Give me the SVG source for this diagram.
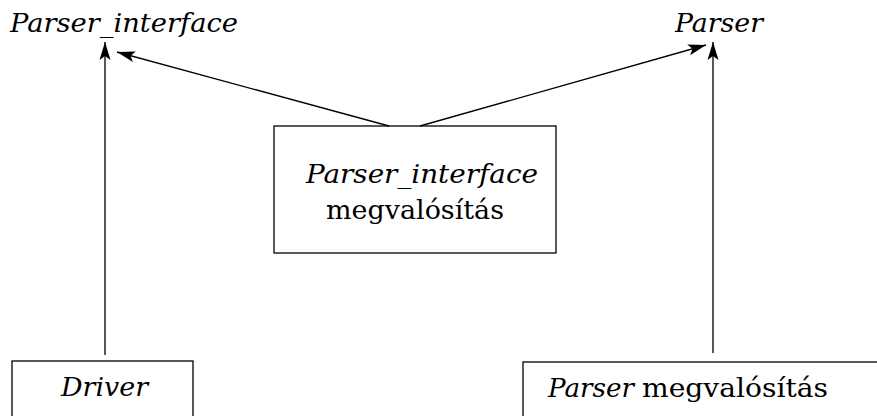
<svg xmlns="http://www.w3.org/2000/svg" width="877" height="416" viewBox="0 0 877 416">
<style>
text{font-family:"DejaVu Serif","Liberation Serif",serif;font-size:26px;fill:#000}
.i{font-style:italic}
.box{fill:#fff;stroke:#000;stroke-width:1.3}
.c{fill:none;stroke:#000;stroke-width:1.3}
</style>
<defs>
<marker id="ah" markerUnits="userSpaceOnUse" markerWidth="20" markerHeight="12" viewBox="-18 -6 20 12" refX="0" refY="0" orient="auto">
<path d="M0,0 L-18,-5.5 L-14,0 L-18,5.5 z" fill="#000"/>
</marker>
</defs>
<rect width="877" height="416" fill="#fff"/>
<g id="parser_interface">
<text class="i" x="10" y="32" textLength="228" lengthAdjust="spacingAndGlyphs">Parser_interface</text>
</g>
<g id="parser">
<text class="i" x="675" y="32" textLength="88" lengthAdjust="spacingAndGlyphs">Parser</text>
</g>
<g id="parser_interface_impl">
<rect class="box" x="274" y="126" width="282" height="127"/>
<text class="i" x="306" y="183" textLength="232" lengthAdjust="spacingAndGlyphs">Parser_interface</text>
<text x="326" y="219" textLength="178" lengthAdjust="spacingAndGlyphs">megvalósítás</text>
</g>
<g id="driver">
<rect class="box" x="12" y="361" width="181" height="70"/>
<text class="i" x="61" y="396" textLength="87" lengthAdjust="spacingAndGlyphs">Driver</text>
</g>
<g id="parser_impl">
<rect class="box" x="523" y="362" width="370" height="70"/>
<text class="i" x="548" y="397" textLength="86" lengthAdjust="spacingAndGlyphs">Parser</text>
<text x="642" y="397" textLength="186" lengthAdjust="spacingAndGlyphs">megvalósítás</text>
</g>
<g id="connectors">
<line class="c" x1="105" y1="355" x2="105" y2="42" marker-end="url(#ah)"/>
<line class="c" x1="389" y1="126" x2="117" y2="52" marker-end="url(#ah)"/>
<line class="c" x1="420" y1="126" x2="706" y2="45" marker-end="url(#ah)"/>
<line class="c" x1="713" y1="353" x2="713" y2="42" marker-end="url(#ah)"/>
</g>
</svg>
